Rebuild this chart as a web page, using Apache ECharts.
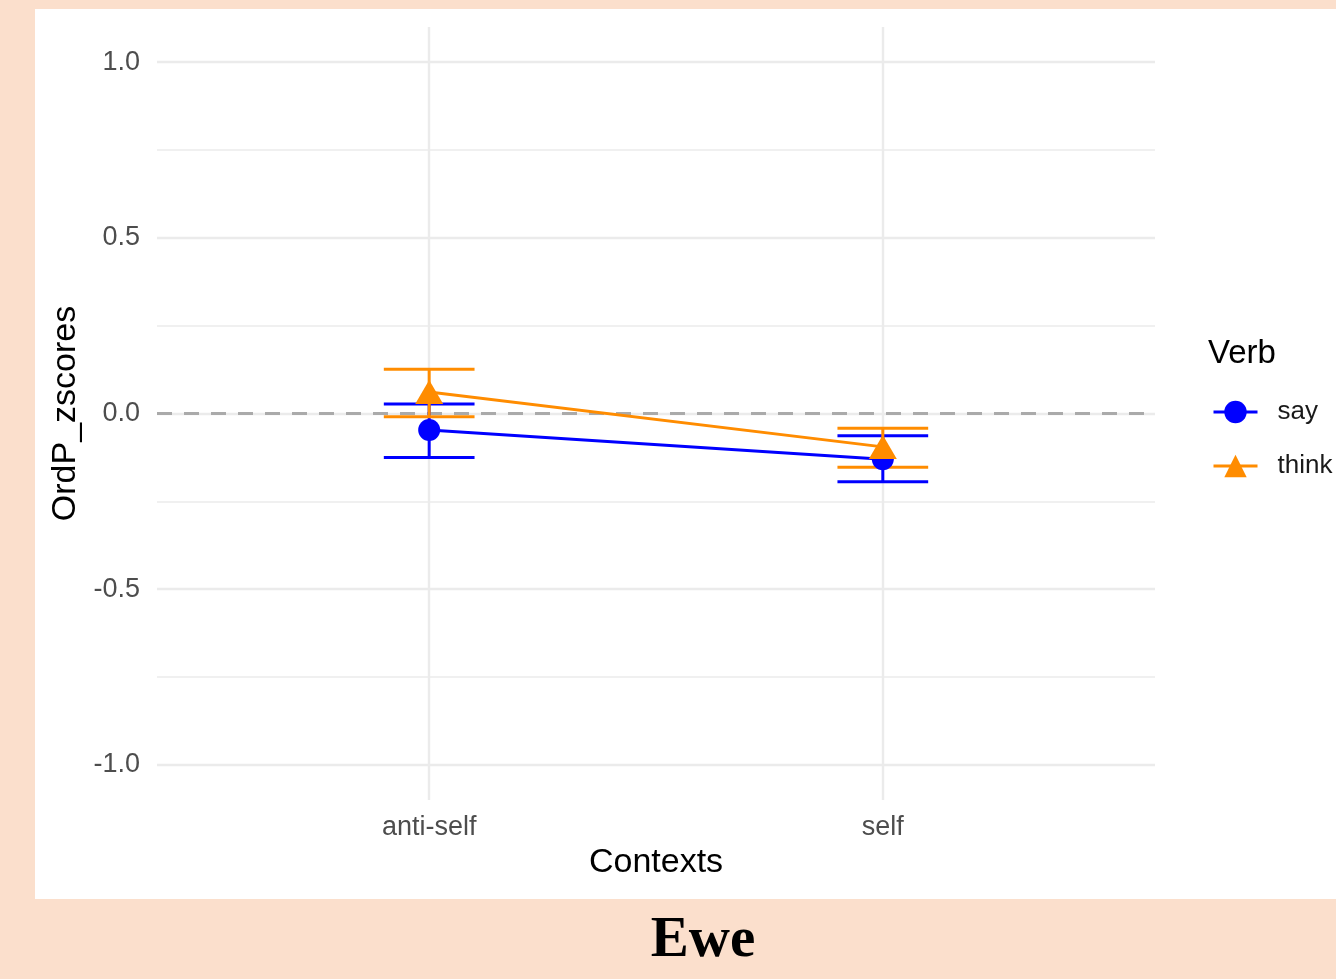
<!DOCTYPE html>
<html>
<head>
<meta charset="utf-8">
<script src="https://cdn.jsdelivr.net/npm/echarts@6/dist/echarts.min.js"></script>
<style>
html,body{margin:0;padding:0;background:#FBDFCC;}
#chart{width:1336px;height:979px;}
</style>
</head>
<body>
<div id="chart"></div>
<script>
const categories = ['anti-self', 'self'];
const categoryPos = [1, 2];
const sayMean = [-0.047, -0.130];
const sayLow = [-0.125, -0.194];
const sayHigh = [0.027, -0.063];
const thinkMean = [0.061, -0.095];
const thinkLow = [-0.009, -0.153];
const thinkHigh = [0.126, -0.042];
const yTicks = [-1, -0.5, 0, 0.5, 1];
const yMinor = [-0.75, -0.25, 0.25, 0.75];

const BLUE = '#0000FF';
const ORANGE = '#FF8C00';
const FONT = 'Liberation Sans, Arial, Helvetica, sans-serif';

function pts(means) { return categoryPos.map((x, i) => [x, means[i]]); }
function errs(lo, hi) { return categoryPos.map((x, i) => [x, lo[i], hi[i]]); }

function errRender(color) {
  return function (params, api) {
    const x = api.value(0), lo = api.value(1), hi = api.value(2);
    const pLo = api.coord([x, lo]);
    const pHi = api.coord([x, hi]);
    const half = api.size([0.1, 0])[0];
    const st = { stroke: color, lineWidth: 3 };
    return {
      type: 'group',
      children: [
        { type: 'line', shape: { x1: pLo[0], y1: pLo[1], x2: pHi[0], y2: pHi[1] }, style: st },
        { type: 'line', shape: { x1: pHi[0] - half, y1: pHi[1], x2: pHi[0] + half, y2: pHi[1] }, style: st },
        { type: 'line', shape: { x1: pLo[0] - half, y1: pLo[1], x2: pLo[0] + half, y2: pLo[1] }, style: st }
      ]
    };
  };
}

const chart = echarts.init(document.getElementById('chart'));
chart.setOption({
  backgroundColor: '#FBDFCC',
  animation: false,
  graphic: [{
    type: 'rect', left: 35, top: 9, z: -10,
    shape: { width: 1301, height: 890 },
    style: { fill: '#FFFFFF' }
  }],
  title: [
    { text: 'Ewe', left: 698, textAlign: 'center', top: 908,
      textStyle: { fontFamily: 'Liberation Serif, Times New Roman, serif', fontWeight: 'bold', fontSize: 57, color: '#000' } },
    { text: 'Verb', left: 1203, top: 332,
      textStyle: { fontFamily: FONT, fontWeight: 'normal', fontSize: 33, color: '#000' } }
  ],
  grid: { left: 157, right: 181, top: 27, bottom: 179, containLabel: false },
  xAxis: {
    type: 'value', min: 0.4, max: 2.6,
    name: 'Contexts', nameLocation: 'middle', nameGap: 46,
    nameTextStyle: { fontFamily: FONT, fontSize: 34, color: '#000' },
    axisLine: { show: false }, axisTick: { show: false }, splitLine: { show: false },
    axisLabel: {
      customValues: categoryPos,
      formatter: v => categories[categoryPos.indexOf(v)] || '',
      fontFamily: FONT, fontSize: 27, color: '#4D4D4D', margin: 14
    }
  },
  yAxis: {
    type: 'value', min: -1.1, max: 1.1,
    name: 'OrdP_zscores', nameLocation: 'middle', nameGap: 73,
    nameTextStyle: { fontFamily: FONT, fontSize: 34, color: '#000' },
    axisLine: { show: false }, axisTick: { show: false }, splitLine: { show: false },
    axisLabel: {
      customValues: yTicks,
      formatter: v => v.toFixed(1),
      fontFamily: FONT, fontSize: 27, color: '#4D4D4D', margin: 17
    }
  },
  legend: {
    data: ['say', 'think'], orient: 'vertical', left: 1207, top: 394,
    itemWidth: 44, itemHeight: 28, itemGap: 28,
    lineStyle: { width: 3 },
    textStyle: { fontFamily: FONT, fontSize: 26, color: '#1A1A1A', padding: [0, 0, 0, 15] }
  },
  series: [
    {
      type: 'line', name: 'grid', data: [], silent: true, z: 0,
      markLine: {
        silent: true, symbol: 'none', animation: false, z: 0,
        label: { show: false },
        data: [
          ...yMinor.map(v => ({ yAxis: v, lineStyle: { color: '#EBEBEB', width: 1.6, type: 'solid' } })),
          ...yTicks.map(v => ({ yAxis: v, lineStyle: { color: '#EBEBEB', width: 2.4, type: 'solid' } })),
          ...categoryPos.map(v => ({ xAxis: v, lineStyle: { color: '#EBEBEB', width: 2.4, type: 'solid' } }))
        ]
      }
    },
    {
      type: 'line', name: 'zero', data: [], silent: true, z: 1,
      markLine: {
        silent: true, symbol: 'none', animation: false, z: 1,
        label: { show: false },
        data: [{ yAxis: 0, lineStyle: { color: '#AAAAAA', width: 3, type: [15, 12] } }]
      }
    },
    { type: 'custom', name: 'say_err', data: errs(sayLow, sayHigh), renderItem: errRender(BLUE), z: 2, silent: true },
    { type: 'custom', name: 'think_err', data: errs(thinkLow, thinkHigh), renderItem: errRender(ORANGE), z: 3, silent: true },
    {
      type: 'line', name: 'say', data: pts(sayMean), z: 4,
      symbol: 'circle', symbolSize: 22,
      lineStyle: { color: BLUE, width: 3 }, itemStyle: { color: BLUE }
    },
    {
      type: 'line', name: 'think', data: pts(thinkMean), z: 5,
      symbol: 'triangle', symbolSize: [28, 24],
      lineStyle: { color: ORANGE, width: 3 }, itemStyle: { color: ORANGE }
    }
  ]
});
</script>
</body>
</html>
